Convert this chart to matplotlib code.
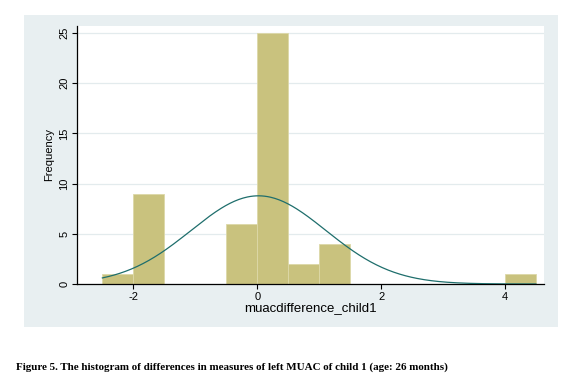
import numpy as np
import matplotlib.pyplot as plt
from matplotlib.patches import Rectangle

plt.rcParams["axes.unicode_minus"] = False

# histogram bins (left edges, width 0.5) and counts
bin_left = [-2.5, -2.0, -1.5, -1.0, -0.5, 0.0, 0.5, 1.0, 1.5, 2.0, 2.5, 3.0, 3.5, 4.0]
counts = [1, 9, 0, 0, 6, 25, 2, 4, 0, 0, 0, 0, 0, 1]
bin_width = 0.5

# fitted normal overlay
mean_diff = 0.02
sd_diff = 1.09
n_obs = sum(counts)

yticks = [0, 5, 10, 15, 20, 25]
xticks = [-2, 0, 2, 4]

fig = plt.figure(figsize=(5.75, 3.92), dpi=100)
fig.patch.set_facecolor("white")

# Stata-like outer panel
fig.add_artist(Rectangle((0.0417, 0.1658), 0.9287, 0.7959, transform=fig.transFigure,
                         facecolor="#e8eff1", edgecolor="none", zorder=-1))

ax = fig.add_axes([0.1339, 0.2755, 0.8121, 0.6582])
ax.set_facecolor("white")

ax.bar(bin_left, counts, width=bin_width, align="edge",
       color="#c9c27e", edgecolor="#ddd8a8", linewidth=0.6, zorder=2)

xs = np.linspace(-2.5, 4.5, 300)
dens = n_obs * bin_width * np.exp(-(xs - mean_diff) ** 2 / (2 * sd_diff ** 2)) / (sd_diff * np.sqrt(2 * np.pi))
ax.plot(xs, dens, color="#1e6e6c", linewidth=0.9, zorder=3)

ax.set_xlim(-2.91, 4.63)
ax.set_ylim(0, 25.7)
ax.set_yticks(yticks)
ax.set_xticks(xticks)
ax.yaxis.grid(True, color="#e3ebed", linewidth=0.9, zorder=1)
ax.set_axisbelow(True)

for s in ["top", "right"]:
    ax.spines[s].set_visible(False)
for s in ["left", "bottom"]:
    ax.spines[s].set_color("black")
    ax.spines[s].set_linewidth(0.9)

ax.tick_params(axis="both", direction="out", length=3.5, width=0.8, labelsize=8, pad=2)
for lbl in ax.get_yticklabels():
    lbl.set_rotation(90)
    lbl.set_va("center")
    lbl.set_family("Liberation Sans")
for lbl in ax.get_xticklabels():
    lbl.set_family("Liberation Sans")

ax.set_ylabel("Frequency", fontsize=8, family="Liberation Sans", labelpad=4)
ax.set_xlabel("muacdifference_child1", fontsize=9.5, family="Liberation Sans", labelpad=0.5)

fig.text(0.028, 0.0638,
         "Figure 5. The histogram of differences in measures of left MUAC of child 1 (age: 26 months)",
         fontsize=7.9, fontweight="bold", family="Liberation Serif", va="center", ha="left")

fig.savefig("out.png", dpi=100)
